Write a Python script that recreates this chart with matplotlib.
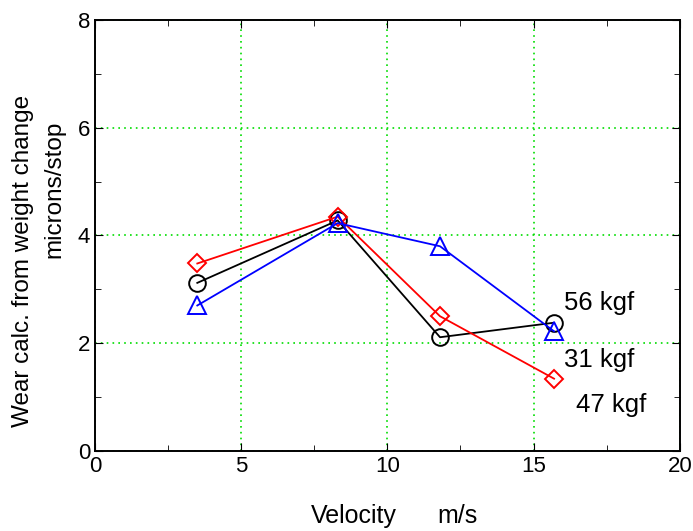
import matplotlib
matplotlib.use('Agg')
import matplotlib.pyplot as plt
from matplotlib.ticker import MultipleLocator

plt.rcParams['font.family'] = ['Liberation Sans', 'DejaVu Sans']

# velocity (m/s)
vel_56 = [3.5, 8.3, 11.8, 15.7]
vel_31 = [3.5, 8.3, 11.8, 15.7]
vel_47 = [3.5, 8.3, 11.8, 15.7]
# wear (microns/stop)
wear_56 = [3.12, 4.28, 2.11, 2.38]
wear_31 = [2.70, 4.23, 3.80, 2.22]
wear_47 = [3.48, 4.35, 2.50, 1.34]

labels = ['56 kgf', '31 kgf', '47 kgf']

fig = plt.figure(figsize=(6.93, 5.31), dpi=100)
ax = fig.add_axes([0.137, 0.151, 0.844, 0.811])

ax.plot(vel_56, wear_56, color='black', marker='o', ms=12, mfc='none', mew=1.4, lw=1.3)
ax.plot(vel_47, wear_47, color='red', marker='D', ms=9.5, mfc='none', mew=1.4, lw=1.3)
ax.plot(vel_31, wear_31, color='blue', marker='^', ms=13, mfc='none', mew=1.4, lw=1.3)

ax.text(16.05, 2.62, labels[0], fontsize=18.5)
ax.text(16.05, 1.55, labels[1], fontsize=18.5)
ax.text(16.45, 0.73, labels[2], fontsize=18.5)

ax.set_xlim(0, 20)
ax.set_ylim(0, 8)
ax.xaxis.set_major_locator(MultipleLocator(5))
ax.xaxis.set_minor_locator(MultipleLocator(2.5))
ax.yaxis.set_major_locator(MultipleLocator(2))
ax.yaxis.set_minor_locator(MultipleLocator(1))
ax.tick_params(which='both', direction='in', top=True, right=True, labelsize=16)
ax.tick_params(which='major', length=6)
ax.tick_params(which='minor', length=4)
ax.grid(True, which='major', color='#00dd00', linestyle=(0, (1, 2.5)), lw=1.2)
for s in ax.spines.values():
    s.set_linewidth(1.4)

# axis titles, placed as in the original figure
fig.text(0.449, 0.028, 'Velocity', fontsize=18, ha='left', va='center')
fig.text(0.631, 0.028, 'm/s', fontsize=18, ha='left', va='center')
fig.text(0.033, 0.508, 'Wear calc. from weight change', fontsize=17.5,
         rotation=90, ha='center', va='center')
fig.text(0.079, 0.644, 'microns/stop', fontsize=17.5,
         rotation=90, ha='center', va='center')

fig.savefig('out.png', dpi=100)
